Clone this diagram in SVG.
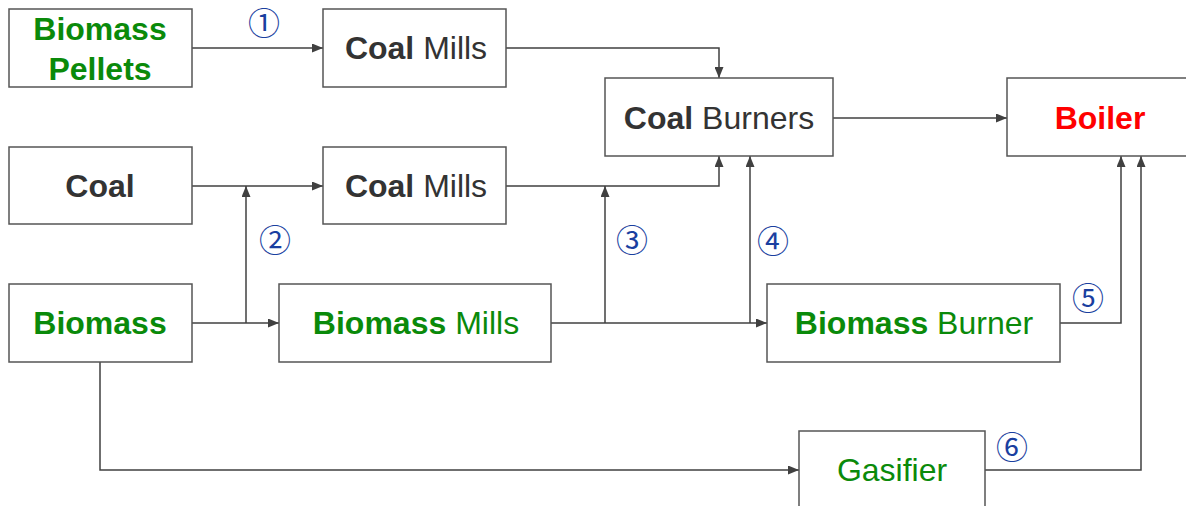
<svg xmlns="http://www.w3.org/2000/svg" width="1186" height="506" viewBox="0 0 1186 506">
<style>
.box{fill:#fff;stroke:#555;stroke-width:1.5}
.t{font-family:"Liberation Sans",Arial,sans-serif;font-size:32px;text-anchor:middle;fill:#333}
.g{fill:#0a8a0a}
.r{fill:#ff0000}
.b{font-weight:bold}
.c{fill:none;stroke:#404040;stroke-width:1.5}
.n{font-family:"Noto Sans CJK SC","DejaVu Sans",sans-serif;font-size:32px;text-anchor:middle;fill:#1a3fa0}
</style>
<defs>
<marker id="ah" markerWidth="11" markerHeight="9" refX="11" refY="4.5" orient="auto" markerUnits="userSpaceOnUse">
<path d="M0,0 L11,4.5 L0,9 z" fill="#404040"/>
</marker>
</defs>
<rect width="1186" height="506" fill="#fff"/>
<g id="connectors">
<path class="c" d="M192,48 H323" marker-end="url(#ah)"/>
<path class="c" d="M506,48 H719 V78" marker-end="url(#ah)"/>
<path class="c" d="M192,186 H323" marker-end="url(#ah)"/>
<path class="c" d="M192,323 H279" marker-end="url(#ah)"/>
<path class="c" d="M246,323 V186" marker-end="url(#ah)"/>
<path class="c" d="M506,186 H719 V156" marker-end="url(#ah)"/>
<path class="c" d="M551,323 H767" marker-end="url(#ah)"/>
<path class="c" d="M605,323 V186" marker-end="url(#ah)"/>
<path class="c" d="M750,323 V156" marker-end="url(#ah)"/>
<path class="c" d="M833,118 H1007" marker-end="url(#ah)"/>
<path class="c" d="M1060,323 H1121 V156" marker-end="url(#ah)"/>
<path class="c" d="M100,362 V470 H799" marker-end="url(#ah)"/>
<path class="c" d="M985,470 H1141 V156" marker-end="url(#ah)"/>
<text class="n" x="264" y="35">①</text>
<text class="n" x="275" y="252">②</text>
<text class="n" x="632" y="252">③</text>
<text class="n" x="773" y="253">④</text>
<text class="n" x="1088" y="310">⑤</text>
<text class="n" x="1012" y="459">⑥</text>
</g>
<g id="biomass-pellets">
<rect class="box" x="9" y="9" width="183" height="78"/>
<text class="t g b" x="100" y="40">Biomass</text>
<text class="t g b" x="100" y="80">Pellets</text>
</g>
<g id="coal-mills-1">
<rect class="box" x="323" y="9" width="183" height="78"/>
<text class="t" x="416" y="59"><tspan class="b">Coal</tspan> Mills</text>
</g>
<g id="coal-burners">
<rect class="box" x="605" y="78" width="228" height="78"/>
<text class="t" x="719" y="129"><tspan class="b">Coal</tspan> Burners</text>
</g>
<g id="boiler">
<rect class="box" x="1007" y="78" width="185" height="78"/>
<text class="t r b" x="1100" y="129">Boiler</text>
</g>
<g id="coal">
<rect class="box" x="9" y="147" width="183" height="77"/>
<text class="t b" x="100" y="197">Coal</text>
</g>
<g id="coal-mills-2">
<rect class="box" x="323" y="147" width="183" height="77"/>
<text class="t" x="416" y="197"><tspan class="b">Coal</tspan> Mills</text>
</g>
<g id="biomass">
<rect class="box" x="9" y="284" width="183" height="78"/>
<text class="t g b" x="100" y="334">Biomass</text>
</g>
<g id="biomass-mills">
<rect class="box" x="279" y="284" width="272" height="78"/>
<text class="t g" x="416" y="334"><tspan class="b">Biomass</tspan> Mills</text>
</g>
<g id="biomass-burner">
<rect class="box" x="767" y="284" width="293" height="78"/>
<text class="t g" x="914" y="334"><tspan class="b">Biomass</tspan> Burner</text>
</g>
<g id="gasifier">
<rect class="box" x="799" y="431" width="186" height="90"/>
<text class="t g" x="892" y="481">Gasifier</text>
</g>
</svg>
